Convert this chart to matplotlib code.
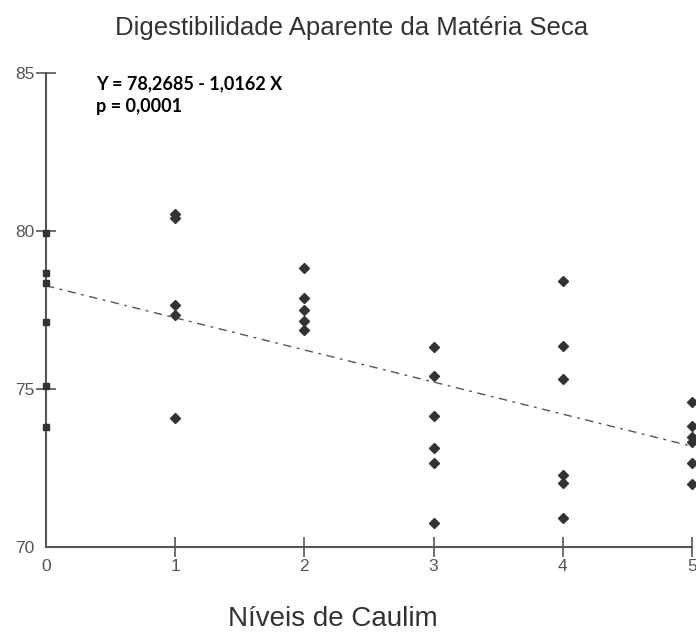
import numpy as np
import matplotlib.pyplot as plt

# dados
niveis = [0, 1, 2, 3, 4, 5]
dams_0 = [79.94, 78.66, 78.36, 77.12, 75.10, 73.79]
dams_1 = [80.55, 80.42, 77.67, 77.34, 74.09]
dams_2 = [78.82, 77.87, 77.50, 77.16, 76.87]
dams_3 = [76.34, 75.42, 74.15, 73.14, 72.65, 70.75]
dams_4 = [78.42, 76.37, 75.32, 72.28, 72.04, 70.91]
dams_5 = [74.58, 73.84, 73.47, 73.33, 72.65, 71.99]
grupos = [dams_0, dams_1, dams_2, dams_3, dams_4, dams_5]

intercepto = 78.2685
inclinacao = -1.0162
p_valor = '0,0001'

cinza = '#555555'
escuro = '#333333'

fig = plt.figure(figsize=(6.96, 6.32), dpi=100)
ax = fig.add_axes([46 / 696, 85 / 632, 646 / 696, 474 / 632])

# pontos
for nivel, vals in zip(niveis, grupos):
    xs = [nivel] * len(vals)
    if nivel == 0:
        ax.plot(xs, vals, 's', color=escuro, markersize=4.5, clip_on=False, zorder=3)
    else:
        ax.plot(xs, vals, 'D', color=escuro, markersize=5.5, clip_on=False, zorder=3)

# reta de regressão
xr = np.array([niveis[0], niveis[-1]])
ax.plot(xr, intercepto + inclinacao * xr, color=cinza, lw=1,
        linestyle=(0, (6, 4, 2, 4)), zorder=2)

ax.set_xlim(0, 5)
ax.set_ylim(70, 85)
ax.set_xticks(niveis)
ax.set_yticks([70, 75, 80, 85])

for s in ['top', 'right']:
    ax.spines[s].set_visible(False)
for s in ['left', 'bottom']:
    ax.spines[s].set_color(cinza)
    ax.spines[s].set_linewidth(1.5)

ax.tick_params(direction='inout', length=15, width=1.2, color=cinza,
               labelcolor=cinza, labelsize=12.5, pad=1)
ax.xaxis.get_major_ticks()[0].tick1line.set_visible(False)
ax.yaxis.get_major_ticks()[0].tick1line.set_visible(False)
for lab in ax.get_xticklabels() + ax.get_yticklabels():
    lab.set_family('Liberation Sans')

fig.text(352 / 696, 1 - 35 / 632, 'Digestibilidade Aparente da Matéria Seca',
         ha='center', va='baseline', fontsize=18.5, color=escuro,
         family='Liberation Sans')
fig.text(333 / 696, 1 - 626 / 632, 'Níveis de Caulim',
         ha='center', va='baseline', fontsize=20, color=escuro,
         family='Liberation Sans')

fig.text(96 / 696, 1 - 89 / 632, 'Y = 78,2685 - 1,0162 X',
         ha='left', va='baseline', fontsize=13, fontweight='bold',
         color='black', family='Lato')
fig.text(96 / 696, 1 - 112 / 632, 'p = ' + p_valor,
         ha='left', va='baseline', fontsize=13, fontweight='bold',
         color='black', family='Lato')

plt.savefig('out.png', dpi=100)
